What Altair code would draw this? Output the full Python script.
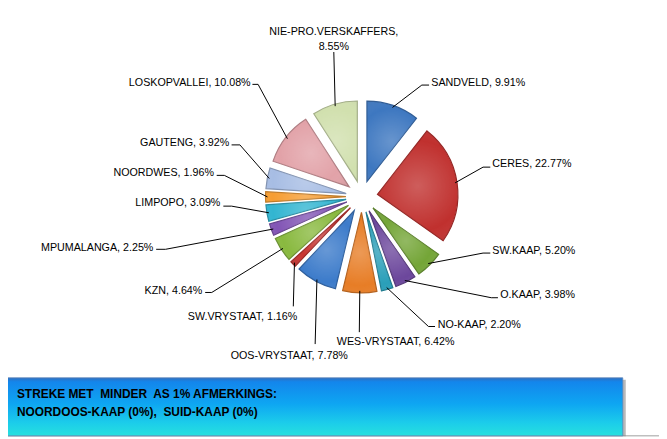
import altair as alt
import pandas as pd
import numpy as np

# ---------------- data ----------------
categories = ["SANDVELD", "CERES", "SW.KAAP", "O.KAAP", "NO-KAAP", "WES-VRYSTAAT",
              "OOS-VRYSTAAT", "SW.VRYSTAAT", "KZN", "MPUMALANGA", "LIMPOPO",
              "NOORDWES", "GAUTENG", "LOSKOPVALLEI", "NIE-PRO.VERSKAFFERS"]
values = [9.91, 22.77, 5.20, 3.98, 2.20, 6.42, 7.78, 1.16, 4.64, 2.25, 3.09,
          1.96, 3.92, 10.08, 8.55]
note_lines = ["STREKE MET\u00a0 MINDER\u00a0 AS 1% AFMERKINGS:",
              "NOORDOOS-KAAP (0%),\u00a0 SUID-KAAP (0%)"]

# ---------------- styles ----------------
colors = ["#3D77C0", "#C0302E", "#74A537", "#6C479C", "#2A9FB9", "#E77D26",
          "#3C7BCA", "#C83532", "#89B93F", "#8255B5", "#32B5D1", "#F69D32",
          "#A7BDE4", "#E2A2A8", "#D1E0AE"]


def darker(h, f=0.78):
    r, g, b = int(h[1:3], 16), int(h[3:5], 16), int(h[5:7], 16)
    return "#%02x%02x%02x" % (int(r * f), int(g * f), int(b * f))


stroke_colors = [darker(c) for c in colors]

FONT = "Liberation Sans, Arial, sans-serif"
W, H = 660, 435            # view size (chart coords = page coords - 4)
CX, CY = 360.5, 192.4      # pie centre
EXPLODE = 16               # slice explosion distance
R = 81                     # slice radius
EDGE = 95                  # leader-line start radius

# label layout (page coordinates): elbow of leader line, end of line, text anchor, align
layout = {
    "SANDVELD": ((425, 84), (432.3, 84), (434.5, 84.8), "left"),
    "CERES": ((486.7, 166.7), (494, 166.7), (496, 166.3), "left"),
    "SW.KAAP": ((486.7, 253.3), (494, 253.3), (496, 253.8), "left"),
    "O.KAAP": ((495, 298.3), (501.7, 298.3), (504, 298.5), "left"),
    "NO-KAAP": ((431.7, 327.3), (438.3, 327.3), (441, 328.4), "left"),
    "WES-VRYSTAAT": (None, (362, 333), (339.3, 346), "left"),
    "OOS-VRYSTAAT": (None, (317.5, 345), (350.5, 360.4), "right"),
    "SW.VRYSTAAT": (None, (295.5, 307), (299.5, 320.4), "right"),
    "KZN": ((213.3, 293), (206.7, 293), (203.8, 294.4), "right"),
    "MPUMALANGA": ((166.7, 249.5), (157.3, 249.5), (154.5, 251), "right"),
    "LIMPOPO": ((233.3, 206), (225, 206), (222, 206.2), "right"),
    "NOORDWES": ((226, 175), (218.3, 175), (215.5, 176), "right"),
    "GAUTENG": ((241.7, 144.3), (233.3, 144.3), (231, 145.4), "right"),
    "LOSKOPVALLEI": ((260, 83.3), (254.3, 83.3), (252.5, 85), "right"),
    "NIE-PRO.VERSKAFFERS": (None, (336.3, 50.7), (336.3, 33.6), "center"),
}
SHIFT = 4  # page -> chart coordinates

# ---------------- derived tables ----------------
vals = np.array(values)
total = vals.sum()
cum = np.cumsum(vals)
start = (cum - vals) / total
end = cum / total
mid = (start + end) / 2 * 2 * np.pi

pie_df = pd.DataFrame({
    "cat": categories,
    "value": values,
    "start": start,
    "end": end,
    "cx": CX + EXPLODE * np.sin(mid),
    "cy": CY - EXPLODE * np.cos(mid),
    "order": range(len(categories)),
})

line_rows, text_rows = [], []
for i, c in enumerate(categories):
    elbow, lend, txt, align = layout[c]
    pts = [(CX + EDGE * np.sin(mid[i]), CY - EDGE * np.cos(mid[i]))]
    if elbow is not None:
        pts.append((elbow[0] - SHIFT, elbow[1] - SHIFT))
    pts.append((lend[0] - SHIFT, lend[1] - SHIFT))
    for k, (px, py) in enumerate(pts):
        line_rows.append({"cat": c, "k": k, "lx": px, "ly": py})
    label = f"{c}, {values[i]:.2f}%"
    if align == "center":
        label = f"{c},\n{values[i]:.2f}%"
    text_rows.append({"cat": c, "label": label, "tx": txt[0] - SHIFT,
                      "ty": txt[1] - SHIFT, "align": align})

line_df = pd.DataFrame(line_rows)
text_df = pd.DataFrame(text_rows)

XS = alt.Scale(domain=[0, W], range=[0, W], nice=False, zero=False)
YS = alt.Scale(domain=[0, H], range=[0, H], nice=False, zero=False)

one = pd.DataFrame({"a": [0]})

# ---------------- frame & note box ----------------
frame_top = alt.Chart(one).mark_rule(color="#BFBFBF", strokeWidth=1.5).encode(
    x=alt.value(0), x2=alt.value(W), y=alt.value(0.75))
frame_left = alt.Chart(one).mark_rule(color="#BFBFBF", strokeWidth=1.5).encode(
    x=alt.value(0.75), y=alt.value(0), y2=alt.value(H))
frame_bottom = alt.Chart(one).mark_rule(color="#BFBFBF", strokeWidth=1.5).encode(
    x=alt.value(0), x2=alt.value(W), y=alt.value(433.5))

box_grad = alt.Gradient(
    gradient="linear", x1=0, y1=0, x2=0, y2=1,
    stops=[alt.GradientStop(color="#2F6FC0", offset=0),
           alt.GradientStop(color="#1386EC", offset=0.07),
           alt.GradientStop(color="#0EA6F2", offset=0.45),
           alt.GradientStop(color="#1CCDEA", offset=0.78),
           alt.GradientStop(color="#27E0DE", offset=1)])
shadow = alt.Chart(one).mark_rect(fill="#8A8A8A", opacity=0.6).encode(
    x=alt.value(3), x2=alt.value(626.5), y=alt.value(377), y2=alt.value(434))
box = alt.Chart(one).mark_rect(fill=box_grad, stroke="#5C87B8", strokeWidth=0.8).encode(
    x=alt.value(0.5), x2=alt.value(623.5), y=alt.value(375), y2=alt.value(433.5))


def note_layer(i, ypos):
    return alt.Chart(pd.DataFrame({"t": [note_lines[i]]})).mark_text(
        align="left", baseline="alphabetic", font=FONT, fontSize=12,
        fontWeight="bold", color="#000000").encode(
        text="t:N", x=alt.value(13), y=alt.value(ypos))


# ---------------- pie ----------------
base = alt.Chart(pie_df)
enc = dict(
    theta=alt.Theta("start:Q", scale=alt.Scale(domain=[0, 1], range=[0, 2 * np.pi])),
    theta2="end:Q",
    x=alt.X("cx:Q", scale=XS, axis=None),
    y=alt.Y("cy:Q", scale=YS, axis=None),
)
slices = base.mark_arc(outerRadius=R, strokeWidth=1.2).encode(
    color=alt.Color("cat:N", scale=alt.Scale(domain=categories, range=colors), legend=None),
    stroke=alt.Stroke("cat:N", scale=alt.Scale(domain=categories, range=stroke_colors), legend=None),
    **enc)
shade = base.mark_arc(
    outerRadius=R,
    fill=alt.Gradient(gradient="radial", x1=0.5, y1=0.5, x2=0.5, y2=0.5, r1=0, r2=0.75,
                      stops=[alt.GradientStop(color="rgba(255,255,255,0.22)", offset=0),
                             alt.GradientStop(color="rgba(255,255,255,0.0)", offset=0.55),
                             alt.GradientStop(color="rgba(0,0,0,0.18)", offset=1)])
).encode(**enc)

# ---------------- leader lines & labels ----------------
lines = alt.Chart(line_df).mark_line(color="#000000", strokeWidth=1).encode(
    x=alt.X("lx:Q", scale=XS, axis=None),
    y=alt.Y("ly:Q", scale=YS, axis=None),
    detail="cat:N",
    order="k:Q")


def label_layer(al):
    return alt.Chart(text_df).transform_filter(
        alt.datum.align == al).mark_text(
        align=al, baseline="alphabetic", font=FONT, fontSize=10.8,
        color="#000000", lineBreak="\n", lineHeight=14.8).encode(
        x=alt.X("tx:Q", scale=XS, axis=None),
        y=alt.Y("ty:Q", scale=YS, axis=None),
        text="label:N")


chart = alt.layer(
    frame_top, frame_left, frame_bottom, shadow, box,
    note_layer(0, 395.5), note_layer(1, 413),
    slices, shade, lines,
    label_layer("left"), label_layer("right"), label_layer("center"),
).properties(
    width=W, height=H,
    autosize=alt.AutoSizeParams(type="none"),
    padding={"left": -4, "top": -4, "right": 0, "bottom": 0},
    background="white",
).configure_view(stroke=None)

chart.save("out.html", embed_options={"renderer": "svg", "actions": False})
